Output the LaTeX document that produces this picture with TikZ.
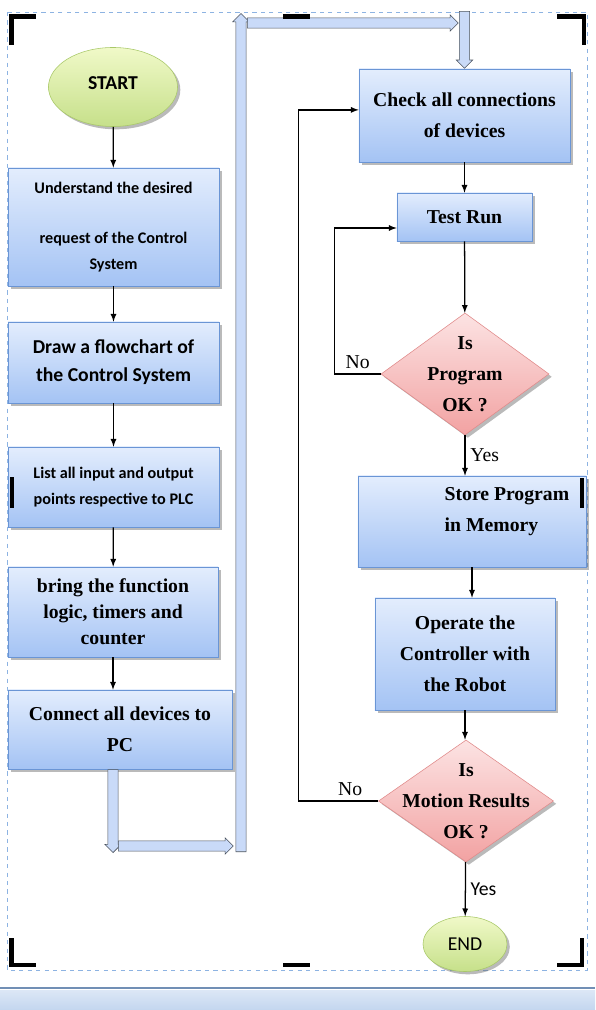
\documentclass[tikz,border=0pt]{standalone}
\usepackage{fontspec}
\setmainfont{Liberation Serif}
\newfontfamily\calib{Carlito}
\usepackage{tikz}
\usetikzlibrary{arrows, shapes.geometric, shapes.arrows, shadows}

\definecolor{boxtop}{HTML}{E3EDFD}
\definecolor{boxbot}{HTML}{A4C3F4}
\definecolor{boxline}{HTML}{6A95D5}
\definecolor{diatop}{HTML}{FCE3E3}
\definecolor{diabot}{HTML}{F2A2A2}
\definecolor{dialine}{HTML}{E08A8A}
\definecolor{elltop}{HTML}{F0F9C8}
\definecolor{ellbot}{HTML}{C6E08A}
\definecolor{ellline}{HTML}{A8C868}
\definecolor{arrfill}{HTML}{C9DAF8}
\definecolor{arrline}{HTML}{4A525C}
\definecolor{frameline}{HTML}{8DB3E2}
\definecolor{bandtop}{HTML}{DCE7F6}
\definecolor{bandbot}{HTML}{C3D6EF}

\tikzset{
  shade/.style={drop shadow={shadow xshift=0.07cm, shadow yshift=-0.07cm, fill=black!60, opacity=0.45}},
  procbox/.style={draw=boxline, top color=boxtop, bottom color=boxbot, align=center, shade},
  decision/.style={diamond, draw=dialine, top color=diatop, bottom color=diabot, inner sep=0pt, shade},
  terminal/.style={ellipse, draw=ellline, top color=elltop, bottom color=ellbot, inner sep=0pt, shade},
  blockarr/.style={single arrow, draw=arrline, fill=arrfill, inner sep=0.12cm,
    single arrow head extend=0.08cm},
  handle/.style={line width=3.5pt, black},
  tnr/.style={font=\fontsize{14}{22}\selectfont\bfseries},
  cal/.style={font=\calib\bfseries\fontsize{14}{20}\selectfont},
  calsmall/.style={font=\calib\bfseries\fontsize{11.5}{19}\selectfont},
  answer/.style={font=\fontsize{14}{16}\selectfont},
  flow/.style={->, line width=0.9pt},
  >=latex
}

\begin{document}
\begin{tikzpicture}[x=0.025cm, y=-0.025cm]
\useasboundingbox (0,0) rectangle (595,1010);
\draw[frameline, dashed] (7,12) rectangle (587,970);
\fill[top color=bandtop, bottom color=bandbot] (0,990) rectangle (595,1010);
\draw[frameline!80!black, line width=1.2pt] (0,988) -- (595,988);

% left column
\node[terminal, cal, minimum width=3.225cm, minimum height=1.975cm] (start) at (113,87) {\raisebox{0.22cm}{START}};
\node[procbox, calsmall, minimum width=5.275cm, minimum height=2.95cm] (understand) at (113.5,227)
  {Understand the desired\\[0.58cm]request of the Control\\System};
\node[procbox, cal, minimum width=5.275cm, minimum height=2.025cm] (flowchart) at (113.5,362.5)
  {Draw a flowchart of\\the Control System};
\node[procbox, calsmall, minimum width=5.275cm, minimum height=2cm] (listio) at (113.5,487)
  {List all input and output\\points respective to PLC};
\node[procbox, tnr, minimum width=5.25cm, minimum height=2.25cm] (logic) at (113,612)
  {bring the function\\[-3.5pt]logic, timers and\\[-3.5pt]counter};
\node[procbox, tnr, minimum width=5.6cm, minimum height=1.975cm] (connect) at (120,729.5)
  {Connect all devices to\\PC};

% right column
\node[procbox, tnr, minimum width=5.275cm, minimum height=2.325cm] (check) at (464.5,115.5)
  {Check all connections\\of devices};
\node[procbox, tnr, minimum width=3.375cm, minimum height=1.2cm] (testrun) at (464.5,217) {Test Run};
\node[decision, minimum width=4.2cm, minimum height=3.05cm] (progok) at (465,374) {};
\node[tnr, align=center] (progoktxt) at (progok) {Is\\Program\\OK ?};
\node[procbox, minimum width=5.7cm, minimum height=2.275cm] (store) at (472,521.5) {};
\node[tnr, align=left, anchor=west] (storetxt) at ([xshift=2.05cm, yshift=0.24cm]store.west) {Store Program\\in Memory};
\node[procbox, tnr, minimum width=4.5cm, minimum height=2.8cm] (operate) at (465,654)
  {Operate the\\Controller with\\the Robot};
\node[decision, minimum width=4.375cm, minimum height=3.05cm] (motionok) at (466,801) {};
\node[tnr, align=center] (motionoktxt) at (motionok) {Is\\Motion Results\\OK ?};
\node[terminal, font=\calib\fontsize{14}{16}\selectfont, minimum width=2.1cm, minimum height=1.375cm] (end) at (465,944) {END};

% connectors
\draw[flow] (start) -- (understand);
\draw[flow] (understand) -- (flowchart);
\draw[flow] (flowchart) -- (listio);
\draw[flow] (listio) -- (logic);
\draw[flow] (logic) -- (logic.south |- connect.north);
\draw[flow] (check) -- (testrun);
\draw[flow] (testrun) -- (progok);
\draw[flow] (progok) -- node[answer, right] {Yes} (progok.south |- store.north);
\draw[flow] (store.south) -- (store.south |- operate.north);
\draw[flow] (operate.south) -- (operate.south |- motionok.north);
\draw[flow] (motionok) -- node[right, font=\calib\fontsize{14}{16}\selectfont] {Yes} (end);
\draw[flow] (progok.west) -- node[answer, above] {No} ++(-46,0) |- ([yshift=-0.275cm]testrun.west);
\draw[flow] (motionok.west) -- node[answer, above, pos=0.35] {No} ++(-80,0) |- ([yshift=0.14cm]check.west);

% block arrows from left column to right column
\node[blockarr, rotate=-90, minimum height=2.075cm, anchor=tail] (ba1) at (connect.south -| logic.south) {};
\node[blockarr, minimum height=2.875cm, anchor=tail] (ba2) at (118,846) {};
\node[blockarr, rotate=90, minimum height=20.95cm, anchor=tail] (ba3) at (241,852) {};
\node[blockarr, minimum height=5.275cm, anchor=tail] (ba4) at (247,23) {};
\node[blockarr, rotate=-90, minimum height=1.425cm, anchor=tip] (ba5) at (check.north) {};

% frame handles
\draw[handle] (11.5,45) -- (11.5,16.5) -- (36,16.5);
\draw[handle] (557,16.5) -- (584,16.5) -- (584,45);
\draw[handle] (11.5,938) -- (11.5,965) -- (36,965);
\draw[handle] (557,965) -- (582,965) -- (582,938);
\draw[handle] (283,16.5) -- (310,16.5);
\draw[handle] (283,965) -- (310,965);
\draw[handle] (12,477) -- (12,508);
\draw[handle] (582,478) -- (582,508);
\end{tikzpicture}
\end{document}
